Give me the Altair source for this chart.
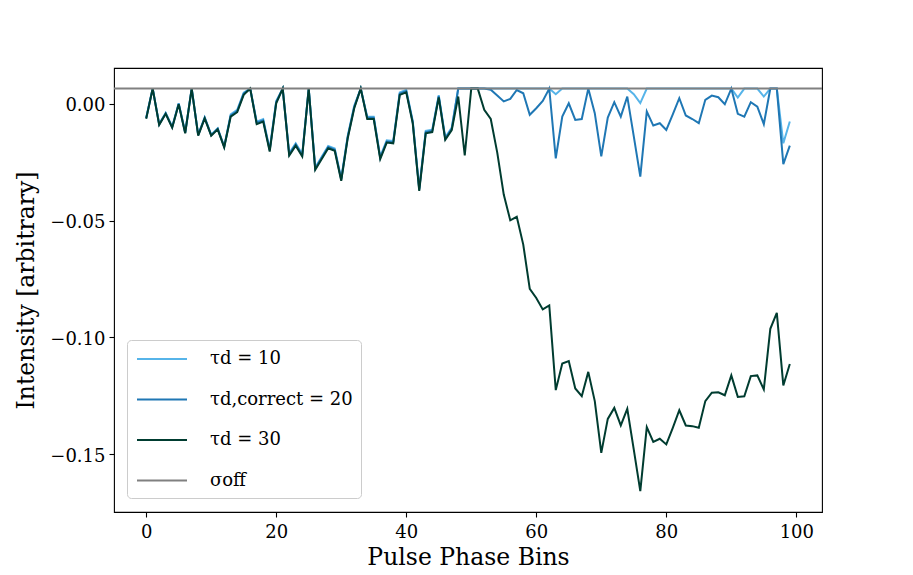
import altair as alt
import pandas as pd

bins = list(range(100))

tau10 = [
    -0.0061, 0.0064, -0.0087, -0.0040, -0.0099, 0.0001, -0.0123, 0.0064, -0.0133, -0.0059,
    -0.0133, -0.0106, -0.0183, -0.0046, -0.0027, 0.0047, 0.0064, -0.0078, -0.0067, -0.0195,
    0.0011, 0.0064, -0.0212, -0.0170, -0.0216, 0.0064, -0.0273, -0.0227, -0.0181, -0.0192,
    -0.0320, -0.0138, -0.0010, 0.0064, -0.0056, -0.0056, -0.0227, -0.0157, -0.0160, 0.0047,
    0.0058, -0.0074, -0.0363, -0.0117, -0.0112, 0.0036, -0.0145, -0.0103, 0.0064, 0.0064,
    0.0064, 0.0064, 0.0064, 0.0064, 0.0064, 0.0064, 0.0064, 0.0064, 0.0064, 0.0064,
    0.0064, 0.0064, 0.0064, 0.0040, 0.0064, 0.0064, 0.0064, 0.0064, 0.0064, 0.0064,
    0.0064, 0.0064, 0.0064, 0.0064, 0.0064, 0.0040, 0.0002, 0.0064, 0.0064, 0.0064,
    0.0064, 0.0064, 0.0064, 0.0064, 0.0064, 0.0064, 0.0064, 0.0064, 0.0064, 0.0064,
    0.0064, 0.0026, 0.0064, 0.0064, 0.0064, 0.0030, 0.0064, 0.0064, -0.0170, -0.0077,
]

tau20 = [
    -0.0063, 0.0064, -0.0089, -0.0042, -0.0101, -0.0001, -0.0125, 0.0064, -0.0135, -0.0061,
    -0.0135, -0.0108, -0.0185, -0.0051, -0.0032, 0.0042, 0.0064, -0.0083, -0.0072, -0.0200,
    0.0006, 0.0064, -0.0217, -0.0175, -0.0221, 0.0064, -0.0278, -0.0232, -0.0186, -0.0197,
    -0.0325, -0.0143, -0.0015, 0.0064, -0.0061, -0.0061, -0.0232, -0.0162, -0.0165, 0.0042,
    0.0053, -0.0079, -0.0368, -0.0122, -0.0117, 0.0031, -0.0150, -0.0108, 0.0064, 0.0064,
    0.0064, 0.0064, 0.0064, 0.0059, 0.0034, 0.0009, 0.0020, 0.0058, 0.0044, -0.0048,
    -0.0020, 0.0011, 0.0064, -0.0234, -0.0056, 0.0001, -0.0070, -0.0066, 0.0064, -0.0041,
    -0.0226, -0.0060, 0.0006, -0.0056, 0.0030, -0.0140, -0.0312, -0.0034, -0.0094, -0.0084,
    -0.0113, -0.0046, 0.0023, -0.0051, -0.0066, -0.0084, 0.0016, 0.0034, 0.0027, -0.0003,
    0.0064, -0.0044, -0.0056, 0.0006, -0.0013, -0.0088, 0.0064, 0.0064, -0.0259, -0.0180,
]

tau30 = [
    -0.0065, 0.0064, -0.0091, -0.0044, -0.0103, -0.0003, -0.0127, 0.0064, -0.0137, -0.0063,
    -0.0137, -0.0110, -0.0187, -0.0056, -0.0037, 0.0037, 0.0064, -0.0088, -0.0077, -0.0205,
    0.0001, 0.0064, -0.0222, -0.0180, -0.0226, 0.0064, -0.0283, -0.0237, -0.0191, -0.0202,
    -0.0330, -0.0148, -0.0020, 0.0064, -0.0066, -0.0066, -0.0237, -0.0167, -0.0170, 0.0037,
    0.0048, -0.0084, -0.0373, -0.0127, -0.0122, 0.0026, -0.0155, -0.0113, 0.0030, -0.0222,
    0.0064, 0.0064, -0.0027, -0.0066, -0.0210, -0.0389, -0.0499, -0.0484, -0.0603, -0.0792,
    -0.0831, -0.0880, -0.0863, -0.1225, -0.1111, -0.1101, -0.1218, -0.1251, -0.1147, -0.1272,
    -0.1493, -0.1348, -0.1301, -0.1376, -0.1305, -0.1479, -0.1657, -0.1383, -0.1446, -0.1433,
    -0.1457, -0.1386, -0.1311, -0.1376, -0.1379, -0.1386, -0.1272, -0.1236, -0.1234, -0.1247,
    -0.1162, -0.1254, -0.1251, -0.1165, -0.1162, -0.1222, -0.0963, -0.0895, -0.1205, -0.1113,
]

sigma_off = 0.0064

series_labels = ["τd = 10", "τd,correct = 20", "τd = 30", "σoff"]
series_colors = ["#56b4e9", "#1f77b4", "#003c30", "#808080"]

x_ticks = [0, 20, 40, 60, 80, 100]
y_ticks = [0.0, -0.05, -0.10, -0.15]

FONT = "DejaVu Serif"
Y_DOMAIN = [-0.1746, 0.0152]

x_enc = alt.X(
    "bin:Q",
    scale=alt.Scale(domain=[-4.95, 103.95], nice=False, zero=False),
    axis=alt.Axis(values=x_ticks, title="Pulse Phase Bins", format="d"),
)

y_enc = alt.Y(
    "value:Q",
    scale=alt.Scale(domain=Y_DOMAIN, nice=False, zero=False),
    axis=alt.Axis(values=y_ticks, title="Intensity [arbitrary]", format=".2f"),
)

color_scale = alt.Scale(domain=series_labels, range=series_colors)
legend = alt.Legend(
    orient="none",
    legendX=13,
    legendY=272,
    title=None,
    symbolType="M-2.5,0H2.5",
    symbolSize=400,
    symbolStrokeWidth=2,
    symbolOffset=16,
    labelOffset=37,
    labelFontSize=18,
    labelFont=FONT,
    labelColor="black",
    labelLimit=400,
    rowPadding=20.5,
    padding=8,
    strokeColor="#cccccc",
    fillColor="white",
    cornerRadius=4,
)
color_enc = alt.Color("series:N", scale=color_scale, legend=legend)

layers = []
for values, lab in zip([tau10, tau20, tau30], series_labels[:3]):
    d = pd.DataFrame({"bin": bins, "value": values, "series": lab})
    layers.append(
        alt.Chart(d).mark_line(strokeWidth=2, clip=True).encode(
            x=x_enc, y=y_enc, color=color_enc
        )
    )

rule = alt.Chart(
    pd.DataFrame({"value": [sigma_off], "series": [series_labels[3]]})
).mark_rule(strokeWidth=2).encode(y=y_enc, color=color_enc)

chart = (
    alt.layer(*layers, rule)
    .properties(
        width=708,
        height=444,
        autosize=alt.AutoSizeParams(type="none"),
        padding={"left": 106, "top": 60, "right": 83, "bottom": 62},
        background="white",
    )
    .configure_view(stroke="black", strokeWidth=1.1)
    .configure_axis(
        grid=False,
        domain=False,
        tickColor="black",
        tickSize=5,
        tickWidth=1.1,
        labelFont=FONT,
        labelFontSize=18,
        labelColor="black",
        titleFont=FONT,
        titleFontSize=23.5,
        titleFontWeight="normal",
        titleColor="black",
        labelPadding=4,
    )
    .configure_axisX(titlePadding=4, labelPadding=6)
    .configure_axisY(titlePadding=11, labelOffset=2)
)

chart.save("out.html", embed_options={"renderer": "svg", "actions": False})
